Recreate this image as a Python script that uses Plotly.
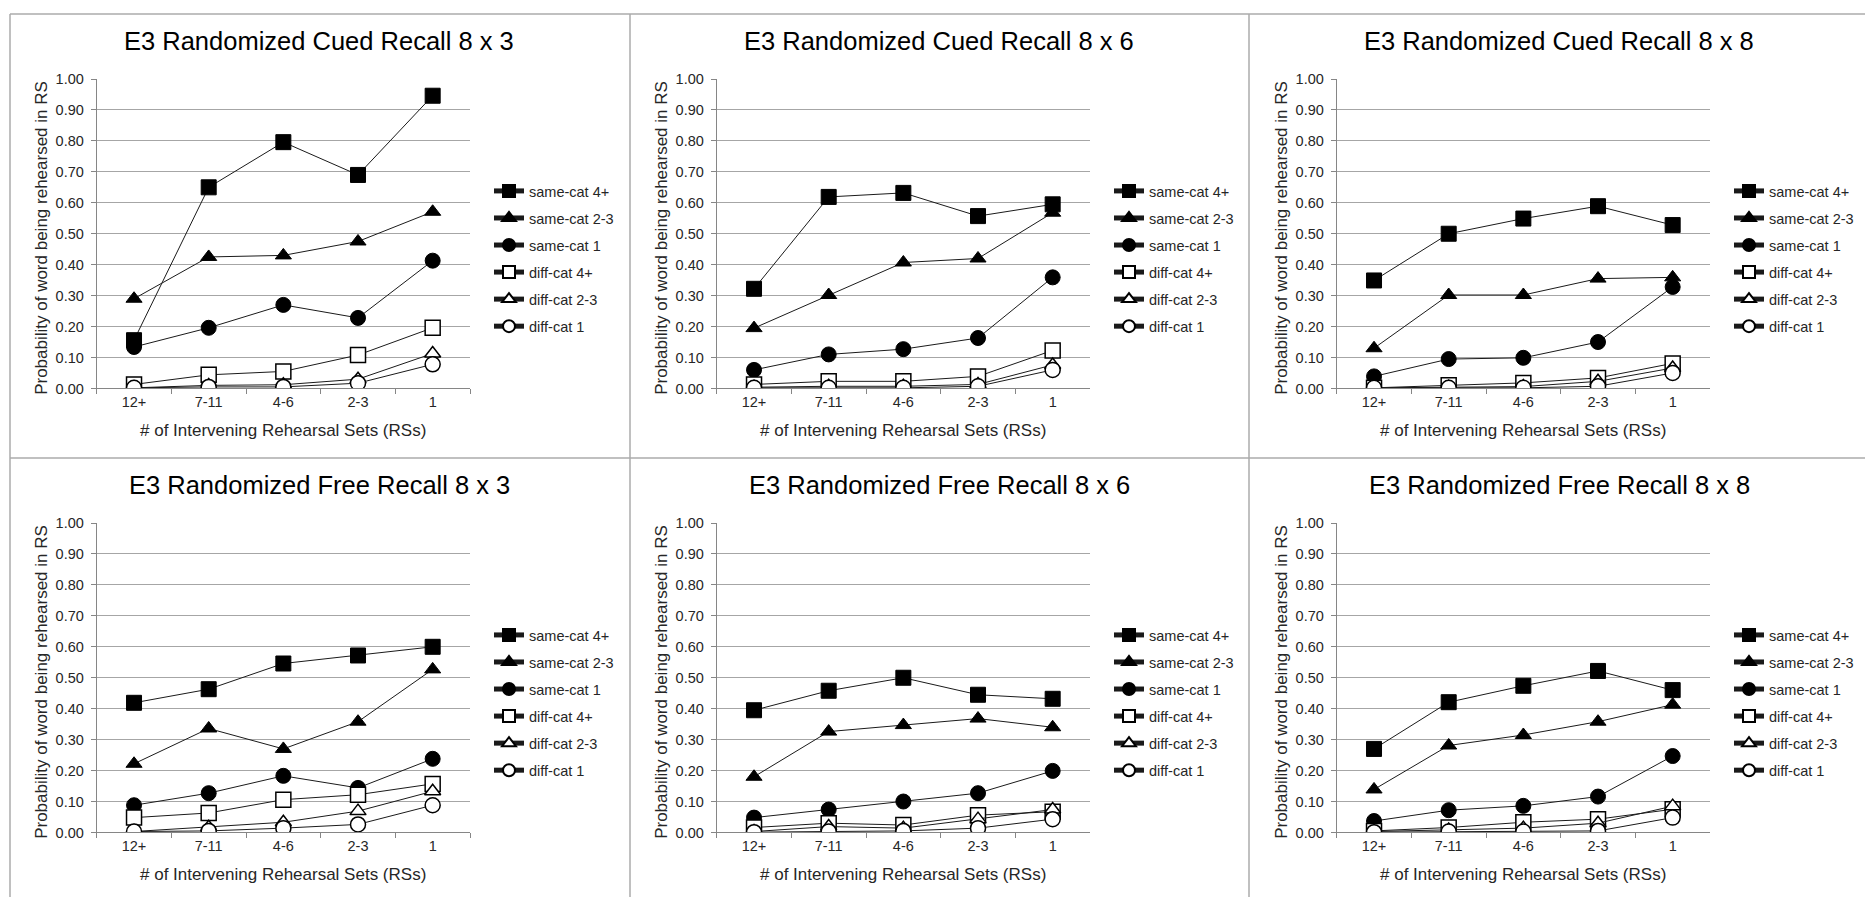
import plotly.graph_objects as go

W, H = 1865, 905

categories = ["12+", "7-11", "4-6", "2-3", "1"]
series_names = ["same-cat 4+", "same-cat 2-3", "same-cat 1", "diff-cat 4+", "diff-cat 2-3", "diff-cat 1"]
y_ticks = [0.0, 0.1, 0.2, 0.3, 0.4, 0.5, 0.6, 0.7, 0.8, 0.9, 1.0]
panel_titles = [
    "E3 Randomized Cued Recall 8 x 3",
    "E3 Randomized Cued Recall 8 x 6",
    "E3 Randomized Cued Recall 8 x 8",
    "E3 Randomized Free Recall 8 x 3",
    "E3 Randomized Free Recall 8 x 6",
    "E3 Randomized Free Recall 8 x 8",
]
x_title = "# of Intervening Rehearsal Sets (RSs)"
y_title = "Probability of word being rehearsed in RS"

# Cued recall 8 x 3
cued_8x3_same4 = [0.156, 0.650, 0.796, 0.690, 0.946]
cued_8x3_same23 = [0.290, 0.425, 0.430, 0.475, 0.571]
cued_8x3_same1 = [0.134, 0.196, 0.270, 0.228, 0.413]
cued_8x3_diff4 = [0.013, 0.044, 0.055, 0.108, 0.196]
cued_8x3_diff23 = [0.002, 0.010, 0.012, 0.030, 0.113]
cued_8x3_diff1 = [0.002, 0.005, 0.005, 0.017, 0.078]

# Cued recall 8 x 6
cued_8x6_same4 = [0.322, 0.619, 0.632, 0.557, 0.595]
cued_8x6_same23 = [0.195, 0.302, 0.407, 0.420, 0.568]
cued_8x6_same1 = [0.060, 0.110, 0.127, 0.163, 0.359]
cued_8x6_diff4 = [0.013, 0.023, 0.023, 0.039, 0.123]
cued_8x6_diff23 = [0.004, 0.007, 0.007, 0.013, 0.076]
cued_8x6_diff1 = [0.002, 0.002, 0.002, 0.007, 0.060]

# Cued recall 8 x 8
cued_8x8_same4 = [0.349, 0.500, 0.549, 0.589, 0.528]
cued_8x8_same23 = [0.130, 0.302, 0.302, 0.355, 0.359]
cued_8x8_same1 = [0.039, 0.095, 0.099, 0.150, 0.328]
cued_8x8_diff4 = [0.002, 0.010, 0.018, 0.034, 0.081]
cued_8x8_diff23 = [0.002, 0.004, 0.006, 0.023, 0.066]
cued_8x8_diff1 = [0.002, 0.002, 0.002, 0.007, 0.050]

# Free recall 8 x 3
free_8x3_same4 = [0.419, 0.463, 0.546, 0.572, 0.600]
free_8x3_same23 = [0.222, 0.336, 0.270, 0.358, 0.527]
free_8x3_same1 = [0.088, 0.127, 0.183, 0.144, 0.238]
free_8x3_diff4 = [0.048, 0.063, 0.106, 0.122, 0.157]
free_8x3_diff23 = [0.003, 0.017, 0.033, 0.069, 0.133]
free_8x3_diff1 = [0.003, 0.005, 0.014, 0.026, 0.088]

# Free recall 8 x 6
free_8x6_same4 = [0.395, 0.458, 0.500, 0.445, 0.432]
free_8x6_same23 = [0.180, 0.326, 0.347, 0.368, 0.340]
free_8x6_same1 = [0.048, 0.074, 0.100, 0.127, 0.199]
free_8x6_diff4 = [0.016, 0.030, 0.024, 0.056, 0.067]
free_8x6_diff23 = [0.003, 0.019, 0.014, 0.043, 0.074]
free_8x6_diff1 = [0.001, 0.003, 0.005, 0.014, 0.043]

# Free recall 8 x 8
free_8x8_same4 = [0.270, 0.421, 0.474, 0.522, 0.460]
free_8x8_same23 = [0.139, 0.281, 0.315, 0.358, 0.413]
free_8x8_same1 = [0.037, 0.072, 0.086, 0.116, 0.247]
free_8x8_diff4 = [0.005, 0.016, 0.033, 0.043, 0.075]
free_8x8_diff23 = [0.003, 0.008, 0.014, 0.030, 0.085]
free_8x8_diff1 = [0.001, 0.003, 0.003, 0.005, 0.048]

panel_data = [
    [cued_8x3_same4, cued_8x3_same23, cued_8x3_same1, cued_8x3_diff4, cued_8x3_diff23, cued_8x3_diff1],
    [cued_8x6_same4, cued_8x6_same23, cued_8x6_same1, cued_8x6_diff4, cued_8x6_diff23, cued_8x6_diff1],
    [cued_8x8_same4, cued_8x8_same23, cued_8x8_same1, cued_8x8_diff4, cued_8x8_diff23, cued_8x8_diff1],
    [free_8x3_same4, free_8x3_same23, free_8x3_same1, free_8x3_diff4, free_8x3_diff23, free_8x3_diff1],
    [free_8x6_same4, free_8x6_same23, free_8x6_same1, free_8x6_diff4, free_8x6_diff23, free_8x6_diff1],
    [free_8x8_same4, free_8x8_same23, free_8x8_same1, free_8x8_diff4, free_8x8_diff23, free_8x8_diff1],
]

# styles
symbols = ["square", "triangle-up", "circle", "square", "triangle-up", "circle"]
fills = ["black", "black", "black", "white", "white", "white"]
sizes = [15, 14, 15, 15, 14, 15]

FONT = "Liberation Sans, Arial, sans-serif"
GRID = "#a6a6a6"
AXIS = "#868686"
TXT = "#262626"

col_dx = [0, 620, 1240]
row_dy = [0, 452]


def fx(p):
    return p / W


def fy(p):
    return 1 - p / H


fig = go.Figure()
layout = dict(
    width=W, height=H, autosize=False,
    margin=dict(l=0, r=0, t=0, b=0),
    paper_bgcolor="white", plot_bgcolor="white",
    font=dict(family=FONT, color=TXT),
    showlegend=True,
)
annotations = []
shapes = []

for i in range(6):
    r, c = divmod(i, 3)
    dx, dy = col_dx[c], row_dy[r]
    ax = "" if i == 0 else str(i + 1)
    lg = "legend" if i == 0 else f"legend{i + 1}"
    for j, name in enumerate(series_names):
        fig.add_trace(go.Scatter(
            x=categories, y=panel_data[i][j], name=name,
            mode="lines+markers",
            xaxis="x" + ax, yaxis="y" + ax,
            legend=lg, legendgroup=f"p{i}s{j}",
            line=dict(color="#1a1a1a", width=1),
            marker=dict(symbol=symbols[j], size=sizes[j], color=fills[j],
                        line=dict(color="black", width=1.5 if fills[j] == "white" else 1)),
        ))
    x0, x1 = 96.7 + dx, 470 + dx
    y0, y1 = 72.3 + dy, 387.3 + dy
    layout["xaxis" + ax] = dict(
        domain=[fx(x0), fx(x1)], anchor="y" + ax,
        type="category", categoryorder="array", categoryarray=categories,
        range=[-0.5, 4.5], showgrid=False, zeroline=False,
        showline=True, linecolor=AXIS, linewidth=1,
        ticks="outside", tickson="boundaries", ticklen=5, tickcolor=AXIS,
        tickfont=dict(size=14.5, family=FONT, color=TXT),
        fixedrange=True,
    )
    layout["yaxis" + ax] = dict(
        domain=[fy(y1), fy(y0)], anchor="x" + ax,
        range=[0, 1], tickmode="array", tickvals=y_ticks,
        tickformat=".2f", showgrid=True, gridcolor=GRID, gridwidth=1,
        zeroline=False, showline=True, linecolor=AXIS, linewidth=1,
        ticks="outside", ticklen=5, tickcolor=AXIS, ticklabelstandoff=4,
        tickfont=dict(size=14.5, family=FONT, color=TXT),
        fixedrange=True,
    )
    layout[lg] = dict(
        x=fx(489 + dx), y=fy(170 + dy), xanchor="left", yanchor="top",
        xref="paper", yref="paper",
        font=dict(size=14.5, family=FONT, color=TXT),
        bgcolor="rgba(0,0,0,0)", tracegroupgap=5.2, itemsizing="constant",
        itemclick=False, itemdoubleclick=False,
    )
    # panel title
    annotations.append(dict(
        text=panel_titles[i], x=fx(319 + dx), y=fy(34 + dy), xref="paper", yref="paper",
        xanchor="center", yanchor="middle", showarrow=False,
        font=dict(size=25.5, family=FONT, color="black"),
    ))
    # x axis title
    annotations.append(dict(
        text=x_title, x=fx((x0 + x1) / 2), y=fy(430 + dy), xref="paper", yref="paper",
        xanchor="center", yanchor="middle", showarrow=False,
        font=dict(size=17, family=FONT, color=TXT),
    ))
    # y axis title
    annotations.append(dict(
        text=y_title, x=fx(42 + dx), y=fy(234 + dy), xref="paper", yref="paper",
        xanchor="center", yanchor="middle", showarrow=False, textangle=-90,
        font=dict(size=17, family=FONT, color=TXT),
    ))

# panel borders
BORDER = "#ababab"
for xb in [10, 630, 1249]:
    shapes.append(dict(type="line", xref="paper", yref="paper",
                       x0=fx(xb), x1=fx(xb), y0=fy(6), y1=0,
                       line=dict(color=BORDER, width=1.5)))
for yb in [6, 458]:
    shapes.append(dict(type="line", xref="paper", yref="paper",
                       x0=fx(10), x1=1, y0=fy(yb), y1=fy(yb),
                       line=dict(color=BORDER, width=1.5)))

layout["annotations"] = annotations
layout["shapes"] = shapes
fig.update_layout(**layout)

fig.write_html(
    "out.html",
    config={"displayModeBar": False, "responsive": False},
    post_script="document.body.style.margin='0';document.body.style.overflow='hidden';",
)
